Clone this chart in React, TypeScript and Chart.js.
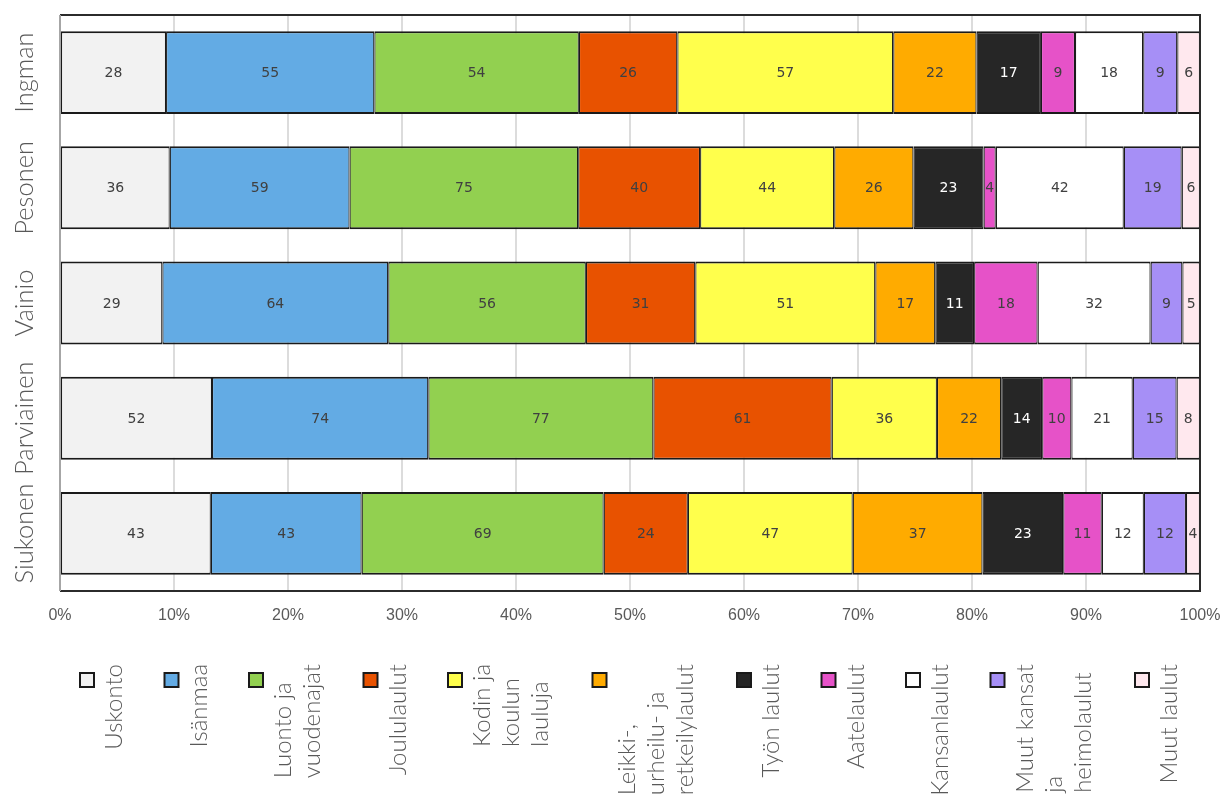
import React, { useEffect, useRef } from "react";
import { Chart, registerables } from "chart.js";

Chart.register(...registerables);

// ---- Data ----
const categories = ["Ingman", "Pesonen", "Vainio", "Parviainen", "Siukonen"];

const seriesNames = [
  "Uskonto",
  "Isänmaa",
  "Luonto ja\nvuodenajat",
  "Joululaulut",
  "Kodin ja\nkoulun\nlauluja",
  "Leikki-,\nurheilu- ja\nretkeilylaulut",
  "Työn laulut",
  "Aatelaulut",
  "Kansanlaulut",
  "Muut kansat\nja\nheimolaulut",
  "Muut laulut",
];

const uskonto = [28, 36, 29, 52, 43];
const isanmaa = [55, 59, 64, 74, 43];
const luonto = [54, 75, 56, 77, 69];
const joululaulut = [26, 40, 31, 61, 24];
const kodin = [57, 44, 51, 36, 47];
const leikki = [22, 26, 17, 22, 37];
const tyonLaulut = [17, 23, 11, 14, 23];
const aatelaulut = [9, 4, 18, 10, 11];
const kansanlaulut = [18, 42, 32, 21, 12];
const muutKansat = [9, 19, 9, 15, 12];
const muutLaulut = [6, 6, 5, 8, 4];

const seriesValues = [
  uskonto,
  isanmaa,
  luonto,
  joululaulut,
  kodin,
  leikki,
  tyonLaulut,
  aatelaulut,
  kansanlaulut,
  muutKansat,
  muutLaulut,
];

const seriesColors = [
  "#f2f2f2",
  "#63abe4",
  "#92d050",
  "#e85200",
  "#ffff4c",
  "#ffab00",
  "#262626",
  "#e652c8",
  "#ffffff",
  "#a68ff6",
  "#ffe8ee",
];

const labelColors = seriesColors.map((c) => (c === "#262626" ? "#ffffff" : "#404040"));

const xTickSuffix = "%";

// ---- Derived (percent stacking) ----
const totals = categories.map((_, i) => seriesValues.reduce((s, arr) => s + arr[i], 0));
const percentValues = seriesValues.map((arr) => arr.map((v, i) => (v / totals[i]) * 100));

const TEXT_GREY = "#595959";
const LEGEND_FONT = "300 24px Lato";
const YLABEL_FONT = "300 25.5px Lato";

const framePlugin = {
  id: "frameAndLabels",
  afterDatasetsDraw(chart: any) {
    const { ctx, chartArea: a } = chart;
    ctx.save();
    // frame
    ctx.lineWidth = 2;
    ctx.strokeStyle = "#2b2b2b";
    ctx.beginPath();
    ctx.moveTo(a.left, a.top);
    ctx.lineTo(a.right, a.top);
    ctx.lineTo(a.right, a.bottom);
    ctx.lineTo(a.left, a.bottom);
    ctx.stroke();
    ctx.strokeStyle = "#a6a6a6";
    ctx.beginPath();
    ctx.moveTo(a.left, a.top);
    ctx.lineTo(a.left, a.bottom);
    ctx.stroke();

    // value labels
    ctx.font = "14px 'DejaVu Sans'";
    ctx.textAlign = "center";
    ctx.textBaseline = "middle";
    chart.data.datasets.forEach((ds: any, di: number) => {
      const meta = chart.getDatasetMeta(di);
      ctx.fillStyle = labelColors[di];
      meta.data.forEach((bar: any, i: number) => {
        const p = bar.getProps(["x", "y", "base"], true);
        const cx = (p.x + p.base) / 2;
        ctx.fillText(String(seriesValues[di][i]), cx, p.y + 1);
      });
    });
    ctx.restore();
  },
  afterDraw(chart: any) {
    const { ctx } = chart;
    const yScale = chart.scales.y;
    ctx.save();
    ctx.fillStyle = TEXT_GREY;
    ctx.font = YLABEL_FONT;
    // y category labels (rotated)
    categories.forEach((c, i) => {
      const py = yScale.getPixelForValue(i);
      ctx.save();
      ctx.translate(33, py);
      ctx.rotate(-Math.PI / 2);
      ctx.textAlign = "center";
      ctx.textBaseline = "alphabetic";
      ctx.fillText(c, 0, 0);
      ctx.restore();
    });

    // legend
    let bx = 80;
    const boxTop = 673;
    const boxSize = 14;
    const lineGap = 29;
    seriesNames.forEach((name, si) => {
      const lines = name.split("\n");
      ctx.fillStyle = seriesColors[si];
      ctx.fillRect(bx, boxTop, boxSize, boxSize);
      ctx.lineWidth = 2;
      ctx.strokeStyle = "#1a1a1a";
      ctx.strokeRect(bx, boxTop, boxSize, boxSize);
      ctx.font = LEGEND_FONT;
      const maxW = Math.max(...lines.map((l) => ctx.measureText(l).width));
      const startY = 664 + maxW;
      ctx.fillStyle = TEXT_GREY;
      lines.forEach((l, k) => {
        ctx.save();
        ctx.translate(bx + 42 + k * lineGap, startY);
        ctx.rotate(-Math.PI / 2);
        ctx.textAlign = "left";
        ctx.textBaseline = "alphabetic";
        ctx.fillText(l, 0, 0);
        ctx.restore();
      });
      bx += 84.5 + 30 * (lines.length - 1);
    });
    ctx.restore();
  },
};

export default function App() {
  const ref = useRef<HTMLCanvasElement | null>(null);

  useEffect(() => {
    document.body.style.margin = "0";
    const canvas = ref.current;
    if (!canvas) return;
    const chart = new Chart(canvas, {
      type: "bar",
      data: {
        labels: categories,
        datasets: seriesNames.map((n, si) => ({
          label: n.replace(/\n/g, " "),
          data: percentValues[si],
          backgroundColor: seriesColors[si],
          borderColor: "#1a1a1a",
          borderWidth: { top: 2, bottom: 2, left: 1.2, right: 1.2 },
          borderSkipped: false,
          barPercentage: 0.72,
          categoryPercentage: 1,
        })),
      },
      options: {
        indexAxis: "y",
        animation: false,
        responsive: false,
        maintainAspectRatio: false,
        layout: { padding: { top: 15, right: 24, left: 0, bottom: 0 } },
        plugins: {
          legend: { display: false },
          tooltip: { enabled: false },
          title: { display: false },
        },
        scales: {
          x: {
            type: "linear",
            stacked: true,
            min: 0,
            max: 100,
            ticks: {
              stepSize: 10,
              padding: 15,
              color: TEXT_GREY,
              font: { family: "'Liberation Sans', Arial, sans-serif", size: 16 },
              callback: (v: any) => `${v}${xTickSuffix}`,
            },
            grid: { color: "#dcdcdc", lineWidth: 2, drawTicks: false },
            border: { display: false },
            afterFit: (s: any) => {
              s.height = 798 - 591;
              s.paddingLeft = 0;
              s.paddingRight = 0;
            },
          },
          y: {
            type: "category",
            stacked: true,
            ticks: { display: false },
            grid: { display: false, drawTicks: false },
            border: { display: false },
            afterFit: (s: any) => {
              s.width = 60;
            },
          },
        },
      },
      plugins: [framePlugin],
    } as any);
    return () => chart.destroy();
  }, []);

  return (
    <div style={{ width: 1224, height: 798 }}>
      <canvas ref={ref} width={1224} height={798} style={{ display: "block" }} />
    </div>
  );
}
